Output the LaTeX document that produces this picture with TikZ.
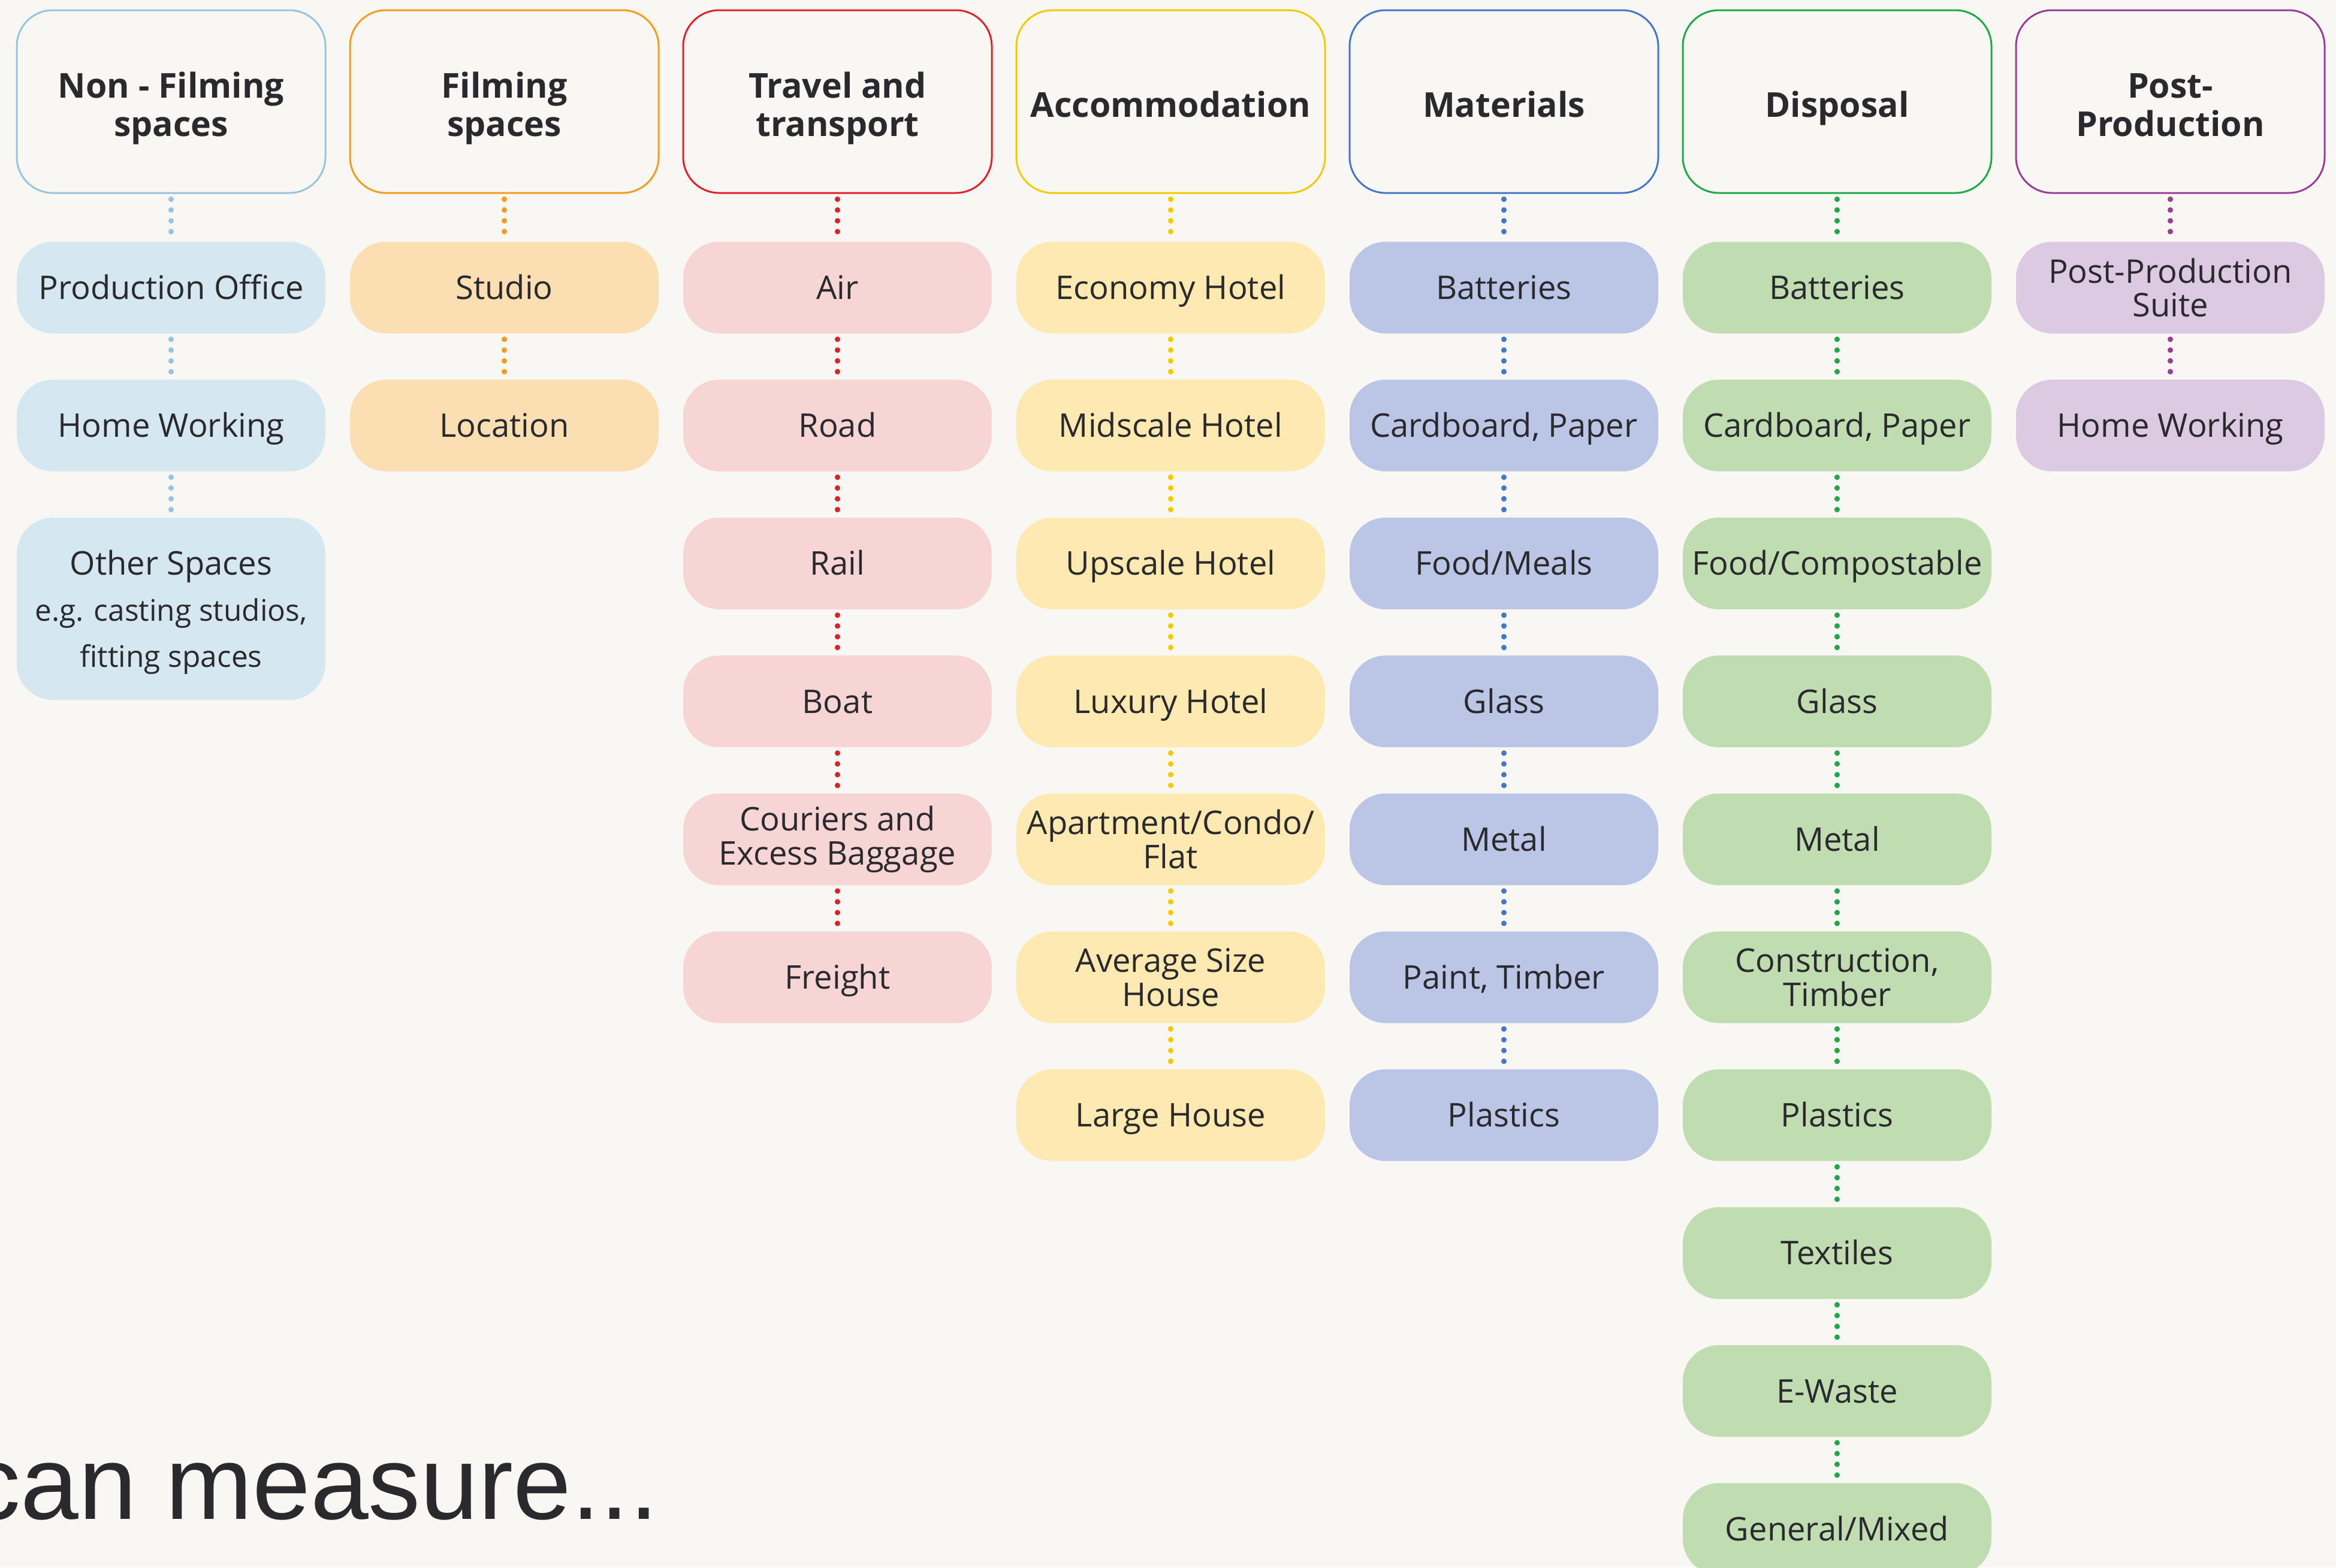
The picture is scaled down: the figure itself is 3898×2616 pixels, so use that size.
\documentclass[tikz,border=0pt]{standalone}
\usepackage{fontspec}
\setmainfont{Open Sans}
\newfontfamily\bigfont{Liberation Sans}
\usetikzlibrary{backgrounds}
\definecolor{bg}{HTML}{F8F7F3}
\definecolor{ink}{HTML}{2A2A2E}
\definecolor{blueL}{HTML}{98C4DD}
\definecolor{blueF}{HTML}{D5E7F1}
\definecolor{orangeL}{HTML}{F39C1F}
\definecolor{orangeF}{HTML}{FBDFB3}
\definecolor{redL}{HTML}{DE2229}
\definecolor{redF}{HTML}{F6D5D4}
\definecolor{yellowL}{HTML}{F5C900}
\definecolor{yellowF}{HTML}{FEEAB0}
\definecolor{periL}{HTML}{4677C6}
\definecolor{periF}{HTML}{BBC6E6}
\definecolor{greenL}{HTML}{1EA846}
\definecolor{greenF}{HTML}{C0DDB1}
\definecolor{purpleL}{HTML}{9B3D98}
\definecolor{purpleF}{HTML}{DCC9E2}
\newcommand{\smallf}{\fontsize{12.4}{19.25}\selectfont}
\newcommand{\hdtext}[1]{\raisebox{-3.4pt}[\height][\depth]{\begin{tabular}{@{}c@{}}#1\end{tabular}}}
\begin{document}
\begin{tikzpicture}[x=0.25pt,y=-0.25pt,
  headbox/.style={draw=#1, line width=0.75pt, fill=bg, rounded corners=15pt,
    minimum width=128.75pt, minimum height=76.25pt, inner sep=0pt,
    font=\bfseries\fontsize{14.3}{16}\selectfont, text=ink},
  cellbox/.style={fill=#1, rounded corners=15pt, minimum width=128.75pt,
    minimum height=38.25pt, inner sep=0pt, align=center,
    font=\fontsize{13.6}{14.2}\selectfont, text=ink},
  oneline/.style={text height=9.7pt, text depth=0pt},
  linkdots/.style={draw=#1, line width=2.3pt, line cap=round,
    dash pattern=on 0pt off 4.5pt, dash phase=2.25pt}
]
\useasboundingbox (0,0) rectangle (3898,2616);

% headers
\node[headbox=blueL]   (h1) at (285.5,169.5)  {\hdtext{Non - Filming\\spaces}};
\node[headbox=orangeL] (h2) at (841.5,169.5)  {\hdtext{Filming\\spaces}};
\node[headbox=redL]    (h3) at (1397.5,169.5) {\hdtext{Travel and\\transport}};
\node[headbox=yellowL] (h4) at (1953.5,169.5) {\hdtext{Accommodation}};
\node[headbox=periL]   (h5) at (2509.5,169.5) {\hdtext{Materials}};
\node[headbox=greenL]  (h6) at (3065.5,169.5) {\hdtext{Disposal}};
\node[headbox=purpleL] (h7) at (3621.5,169.5) {\hdtext{Post-\\Production}};

% column 1
\node[cellbox=blueF, oneline] (a0) at (285.5,480)   {Production Office};
\node[cellbox=blueF, oneline] (a1) at (285.5,710.2) {Home Working};
\node[cellbox=blueF, minimum height=76pt, font=\fontsize{13.6}{19.25}\selectfont] (a2) at (285.5,1016)
  {\raisebox{-1.2pt}[\height][\depth]{\begin{tabular}{@{}c@{}}Other Spaces\\\smallf e.g. casting studios,\\\smallf fitting spaces\end{tabular}}};

% column 2
\node[cellbox=orangeF, oneline] (b0) at (841.5,480)   {Studio};
\node[cellbox=orangeF, oneline] (b1) at (841.5,710.2) {Location};

% column 3
\node[cellbox=redF, oneline] (c0) at (1397.5,480)    {Air};
\node[cellbox=redF, oneline] (c1) at (1397.5,710.2)  {Road};
\node[cellbox=redF, oneline] (c2) at (1397.5,940.4)  {Rail};
\node[cellbox=redF, oneline] (c3) at (1397.5,1170.6) {Boat};
\node[cellbox=redF]          (c4) at (1397.5,1400.8) {Couriers and\\Excess Baggage};
\node[cellbox=redF, oneline] (c5) at (1397.5,1631)   {Freight};

% column 4
\node[cellbox=yellowF, oneline] (d0) at (1953.5,480)    {Economy Hotel};
\node[cellbox=yellowF, oneline] (d1) at (1953.5,710.2)  {Midscale Hotel};
\node[cellbox=yellowF, oneline] (d2) at (1953.5,940.4)  {Upscale Hotel};
\node[cellbox=yellowF, oneline] (d3) at (1953.5,1170.6) {Luxury Hotel};
\node[cellbox=yellowF]          (d4) at (1953.5,1400.8) {Apartment/Condo/\\Flat};
\node[cellbox=yellowF]          (d5) at (1953.5,1631)   {Average Size\\House};
\node[cellbox=yellowF, oneline] (d6) at (1953.5,1861.2) {Large House};

% column 5
\node[cellbox=periF, oneline] (e0) at (2509.5,480)    {Batteries};
\node[cellbox=periF, oneline] (e1) at (2509.5,710.2)  {Cardboard, Paper};
\node[cellbox=periF, oneline] (e2) at (2509.5,940.4)  {Food/Meals};
\node[cellbox=periF, oneline] (e3) at (2509.5,1170.6) {Glass};
\node[cellbox=periF, oneline] (e4) at (2509.5,1400.8) {Metal};
\node[cellbox=periF, oneline] (e5) at (2509.5,1631)   {Paint, Timber};
\node[cellbox=periF, oneline] (e6) at (2509.5,1861.2) {Plastics};

% column 6
\node[cellbox=greenF, oneline] (f0) at (3065.5,480)    {Batteries};
\node[cellbox=greenF, oneline] (f1) at (3065.5,710.2)  {Cardboard, Paper};
\node[cellbox=greenF, oneline] (f2) at (3065.5,940.4)  {Food/Compostable};
\node[cellbox=greenF, oneline] (f3) at (3065.5,1170.6) {Glass};
\node[cellbox=greenF, oneline] (f4) at (3065.5,1400.8) {Metal};
\node[cellbox=greenF]          (f5) at (3065.5,1631)   {Construction,\\Timber};
\node[cellbox=greenF, oneline] (f6) at (3065.5,1861.2) {Plastics};
\node[cellbox=greenF, oneline] (f7) at (3065.5,2091.4) {Textiles};
\node[cellbox=greenF, oneline] (f8) at (3065.5,2321.6) {E-Waste};
\node[cellbox=greenF, oneline] (f9) at (3065.5,2551.8) {General/Mixed};

% column 7
\node[cellbox=purpleF]          (g0) at (3621.5,480)   {Post-Production\\Suite};
\node[cellbox=purpleF, oneline] (g1) at (3621.5,710.2) {Home Working};

% bottom text
\node[anchor=base west, inner sep=0pt, text=ink,
  font=\bigfont\fontsize{43.5}{50}\selectfont] (measure) at (-53,2535) {can measure...};

\begin{scope}[on background layer]
\fill[bg] (0,0) rectangle (3898,2616);
\draw[linkdots=blueL] (h1.south) -- (a0.north);
\draw[linkdots=blueL] (a0.south) -- (a1.north);
\draw[linkdots=blueL] (a1.south) -- (a2.north);
\draw[linkdots=orangeL] (h2.south) -- (b0.north);
\draw[linkdots=orangeL] (b0.south) -- (b1.north);
\draw[linkdots=redL] (h3.south) -- (c0.north);
\foreach \i/\j in {0/1,1/2,2/3,3/4,4/5} \draw[linkdots=redL] (c\i.south) -- (c\j.north);
\draw[linkdots=yellowL] (h4.south) -- (d0.north);
\foreach \i/\j in {0/1,1/2,2/3,3/4,4/5,5/6} \draw[linkdots=yellowL] (d\i.south) -- (d\j.north);
\draw[linkdots=periL] (h5.south) -- (e0.north);
\foreach \i/\j in {0/1,1/2,2/3,3/4,4/5,5/6} \draw[linkdots=periL] (e\i.south) -- (e\j.north);
\draw[linkdots=greenL] (h6.south) -- (f0.north);
\foreach \i/\j in {0/1,1/2,2/3,3/4,4/5,5/6,6/7,7/8,8/9} \draw[linkdots=greenL] (f\i.south) -- (f\j.north);
\draw[linkdots=purpleL] (h7.south) -- (g0.north);
\draw[linkdots=purpleL] (g0.south) -- (g1.north);
\end{scope}
\end{tikzpicture}
\end{document}
